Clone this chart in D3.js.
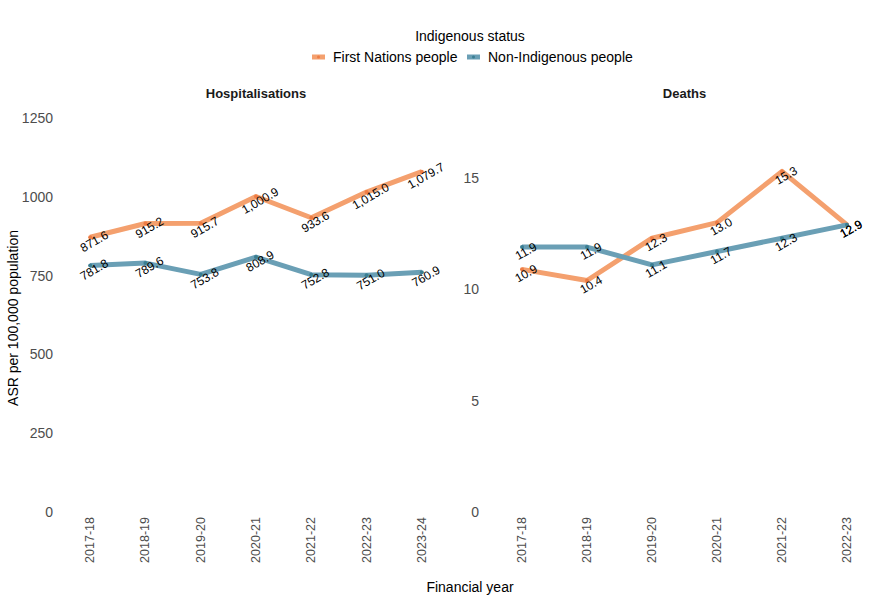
<!DOCTYPE html>
<html>
<head>
<meta charset="utf-8">
<script src="https://cdn.jsdelivr.net/npm/d3@7"></script>
<style>
body { margin: 0; background: #fff; }
text { font-family: "Liberation Sans", Arial, sans-serif; }
</style>
</head>
<body>
<div id="chart"></div>
<script>
var w = 890, h = 600;

// data
var hospYears = ["2017-18", "2018-19", "2019-20", "2020-21", "2021-22", "2022-23", "2023-24"];
var hospFirstNations = [871.6, 915.2, 915.7, 1000.9, 933.6, 1015.0, 1079.7];
var hospNonIndigenous = [781.8, 789.6, 753.8, 808.9, 752.8, 751.0, 760.9];
var hospTicks = [0, 250, 500, 750, 1000, 1250];

var deathYears = ["2017-18", "2018-19", "2019-20", "2020-21", "2021-22", "2022-23"];
var deathFirstNations = [10.9, 10.4, 12.3, 13.0, 15.3, 12.9];
var deathNonIndigenous = [11.9, 11.9, 11.1, 11.7, 12.3, 12.9];
var deathTicks = [0, 5, 10, 15];

var groups = ["First Nations people", "Non-Indigenous people"];
var lineCol = {"First Nations people": "#f4a06e", "Non-Indigenous people": "#6a9fb5"};
var dotCol = {"First Nations people": "#ee7d45", "Non-Indigenous people": "#3a7e92"};

var svg = d3.select("#chart").append("svg")
	.attr("width", w)
	.attr("height", h);

var panels = [
	{title: "Hospitalisations", years: hospYears, fn: hospFirstNations, ni: hospNonIndigenous,
	 ticks: hospTicks, domain: [0, 1250], xr: [57, 455], labX: 53, fmt: d3.format(",.1f")},
	{title: "Deaths", years: deathYears, fn: deathFirstNations, ni: deathNonIndigenous,
	 ticks: deathTicks, domain: [0, 17.7], xr: [483, 886], labX: 479, fmt: d3.format(".1f")}
];

panels.forEach(function(p) {
	var x = d3.scalePoint().domain(p.years).range(p.xr).padding(0.6);
	var y = d3.scaleLinear().domain(p.domain).range([512, 118]);
	var g = svg.append("g");

	g.append("text")
		.attr("x", (p.xr[0] + p.xr[1]) / 2)
		.attr("y", 98)
		.attr("text-anchor", "middle")
		.attr("font-size", 13)
		.attr("font-weight", "bold")
		.attr("fill", "#1a1a1a")
		.text(p.title);

	g.selectAll(".ytick")
		.data(p.ticks)
		.enter().append("text")
		.attr("x", p.labX)
		.attr("y", d => y(d))
		.attr("dy", "0.35em")
		.attr("text-anchor", "end")
		.attr("font-size", 14)
		.attr("fill", "#4d4d4d")
		.text(d => d);

	g.selectAll(".xtick")
		.data(p.years)
		.enter().append("text")
		.attr("transform", d => "translate(" + (x(d) + 4) + ",517) rotate(-90)")
		.attr("text-anchor", "end")
		.attr("font-size", 12.5)
		.attr("fill", "#4d4d4d")
		.text(d => d);

	var series = [
		{name: groups[0], vals: p.fn},
		{name: groups[1], vals: p.ni}
	];

	var line = d3.line()
		.x((d, i) => x(p.years[i]))
		.y(d => y(d));

	series.forEach(function(s) {
		g.append("path")
			.datum(s.vals)
			.attr("d", line)
			.attr("fill", "none")
			.attr("stroke", lineCol[s.name])
			.attr("stroke-width", 5)
			.attr("stroke-linejoin", "round");
		g.selectAll(null)
			.data(s.vals)
			.enter().append("circle")
			.attr("cx", (d, i) => x(p.years[i]))
			.attr("cy", d => y(d))
			.attr("r", 2)
			.attr("fill", dotCol[s.name]);
	});

	series.forEach(function(s) {
		g.selectAll(null)
			.data(s.vals)
			.enter().append("text")
			.attr("transform", (d, i) => "translate(" + (x(p.years[i]) + 4) + "," + (y(d) + 4) + ") rotate(-30)")
			.attr("text-anchor", "middle")
			.attr("dy", "0.35em")
			.attr("font-size", 12)
			.attr("fill", "#000")
			.text(d => p.fmt(d));
	});
});

// axis titles
svg.append("text")
	.attr("transform", "translate(18,318) rotate(-90)")
	.attr("text-anchor", "middle")
	.attr("font-size", 14)
	.attr("fill", "#000")
	.text("ASR per 100,000 population");

svg.append("text")
	.attr("x", 470)
	.attr("y", 592)
	.attr("text-anchor", "middle")
	.attr("font-size", 14)
	.attr("fill", "#000")
	.text("Financial year");

// legend
svg.append("text")
	.attr("x", 470)
	.attr("y", 41)
	.attr("text-anchor", "middle")
	.attr("font-size", 14)
	.attr("fill", "#000")
	.text("Indigenous status");

var legX = [312, 467];
groups.forEach(function(gname, i) {
	var lg = svg.append("g").attr("transform", "translate(" + legX[i] + ",57)");
	lg.append("rect")
		.attr("x", 0).attr("y", -2.5)
		.attr("width", 13).attr("height", 5)
		.attr("fill", lineCol[gname]);
	lg.append("circle")
		.attr("cx", 6.5).attr("cy", 0).attr("r", 1.5)
		.attr("fill", dotCol[gname]);
	lg.append("text")
		.attr("x", 21)
		.attr("y", 0)
		.attr("dy", "0.35em")
		.attr("font-size", 14)
		.attr("fill", "#000")
		.text(gname);
});
</script>
</body>
</html>
